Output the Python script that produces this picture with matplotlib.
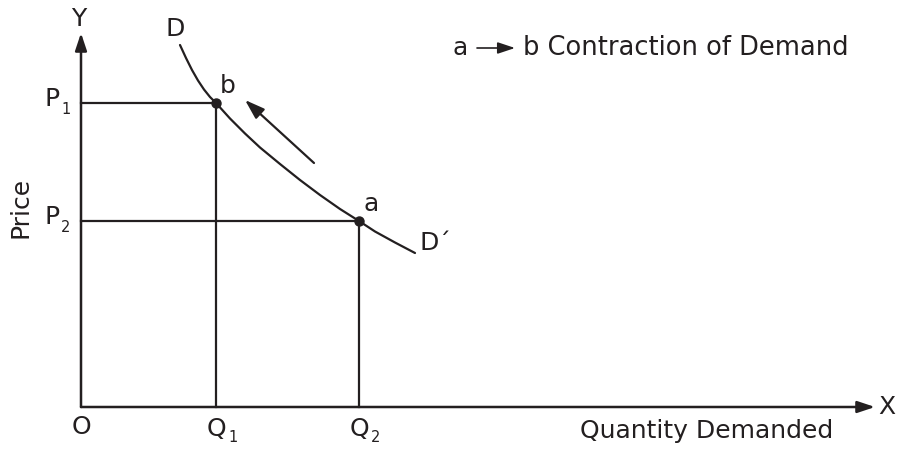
import matplotlib.pyplot as plt

# units: pixels measured from the origin O of the diagram
q_levels = [135, 278]          # Q1, Q2
p_levels = [304, 186]          # P1, P2
q_labels = ["Q", "Q"]
p_labels = ["P", "P"]
subs = ["1", "2"]
point_names = ["b", "a"]

curve_q = [99, 105, 111, 117, 123, 129, 135, 149, 164, 179, 199, 219, 239, 259, 278, 294, 314, 334]
curve_p = [362, 349, 337, 326.5, 317.5, 310, 304, 288.5, 273.5, 259.5, 243, 227, 212, 198, 186, 175.5, 164.5, 154]

x_axis_len = 794
y_axis_len = 374
move_start = (233, 244)
move_end = (164, 307)

ink = "#231f20"
fs = 18

fig = plt.figure(figsize=(8.98, 4.49), dpi=100)
ax = fig.add_axes([0, 0, 1, 1])
ax.set_xlim(-81, 817)
ax.set_ylim(-42, 407)
ax.axis("off")

def arrow(lw, scale=7):
    return dict(arrowstyle="-|>,head_length=1.5,head_width=0.5", color=ink, lw=lw,
                shrinkA=0, shrinkB=0, mutation_scale=scale)

ax.annotate("", xy=(x_axis_len, 0), xytext=(0, 0), arrowprops=arrow(1.8))
ax.annotate("", xy=(0, y_axis_len), xytext=(0, 0), arrowprops=arrow(1.8))
ax.text(x_axis_len + 3, 0, "X", fontsize=fs, color=ink, va="center", ha="left")
ax.text(-2, y_axis_len + 14, "Y", fontsize=fs, color=ink, va="center", ha="center")
ax.text(0, -20, "O", fontsize=fs, color=ink, va="center", ha="center")

# demand curve
ax.plot(curve_q, curve_p, color=ink, lw=1.6, solid_capstyle="round", solid_joinstyle="round")
ax.text(curve_q[0] - 5, curve_p[0] + 16, "D", fontsize=fs, color=ink, va="center", ha="center")
ax.text(curve_q[-1] + 4, curve_p[-1] + 10, "D\u00b4", fontsize=fs, color=ink, va="center", ha="left")

for q, p, ql, pl, s, name in zip(q_levels, p_levels, q_labels, p_labels, subs, point_names):
    ax.plot([0, q], [p, p], color=ink, lw=1.6)
    ax.plot([q, q], [0, p], color=ink, lw=1.6)
    ax.plot(q, p, "o", color=ink, ms=6.5)
    ax.text(q + 12, p + 17, name, fontsize=fs, color=ink, va="center", ha="center")
    ax.text(-29, p + 4, pl, fontsize=fs, color=ink, va="center", ha="center")
    ax.text(-15, p - 6, s, fontsize=10.5, color=ink, va="center", ha="center")
    ax.text(q, -22, ql, fontsize=fs, color=ink, va="center", ha="center")
    ax.text(q + 17, -31, s, fontsize=10.5, color=ink, va="center", ha="center")

ax.annotate("", xy=move_end, xytext=move_start, arrowprops=arrow(1.6, 8))

ax.text(-61, 200, "Price", fontsize=fs, color=ink, rotation=90, va="center", ha="center")
ax.text(626, -24, "Quantity Demanded", fontsize=fs, color=ink, va="center", ha="center")

# note at top right
ax.text(371, 359, "a", fontsize=fs, color=ink, va="center", ha="left")
ax.annotate("", xy=(434, 359), xytext=(396, 359), arrowprops=arrow(1.2))
ax.text(442, 359, "b Contraction of Demand", fontsize=18.5, color=ink, va="center", ha="left")

fig.savefig("out.png", dpi=100)
